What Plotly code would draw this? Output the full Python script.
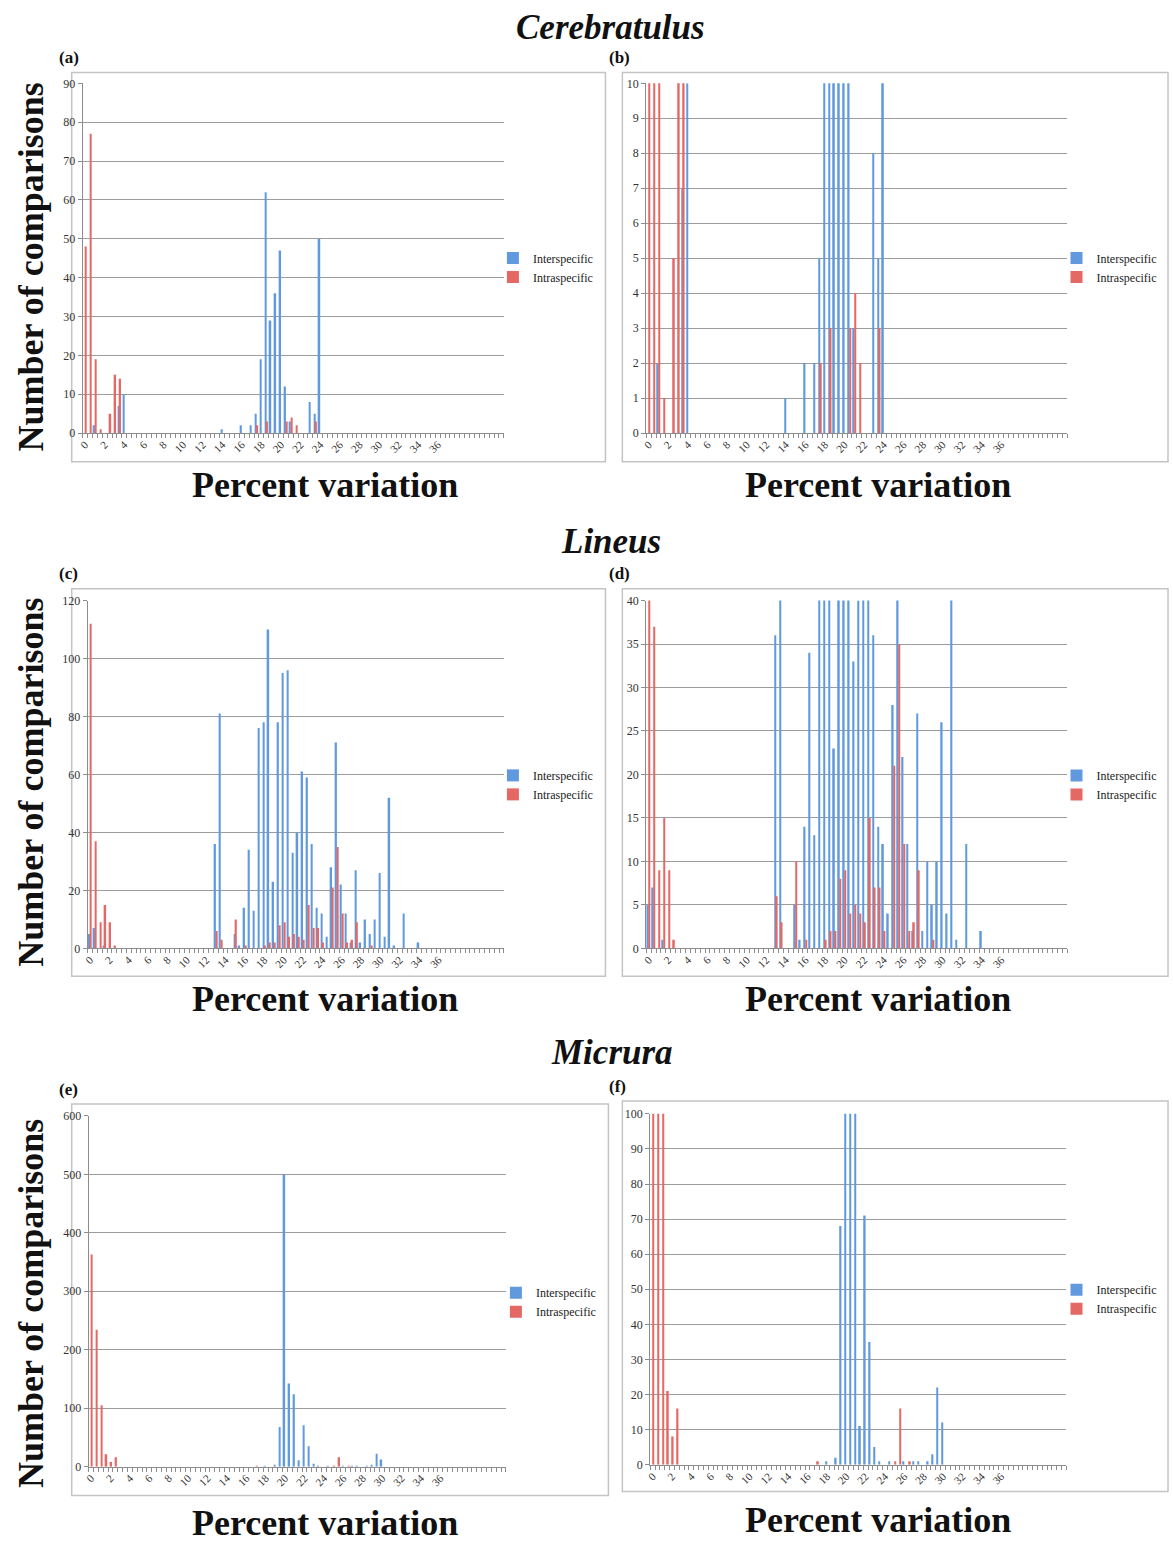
import plotly.graph_objects as go

# ---------------- data (percent variation bins of 0.5 %) ----------------
cereb_inter_pct = [1, 3.5, 4, 14, 16, 17, 17.5, 18, 18.5, 19, 19.5, 20, 20.5, 21, 23, 23.5, 24]
cereb_inter_n   = [2, 7, 10, 1, 2, 2, 5, 19, 62, 29, 36, 47, 12, 3, 8, 5, 50]
cereb_intra_pct = [0, 0.5, 1, 1.5, 2.5, 3, 3.5, 17.5, 18.5, 20.5, 21, 21.5, 23.5]
cereb_intra_n   = [48, 77, 19, 1, 5, 15, 14, 2, 3, 3, 4, 2, 3]

lineus_inter_pct = [0, 0.5, 1.5, 13, 13.5, 15, 15.5, 16, 16.5, 17, 17.5, 18, 18.5, 19, 19.5, 20,
                    20.5, 21, 21.5, 22, 22.5, 23, 23.5, 24, 24.5, 25, 25.5, 26, 26.5, 27, 27.5,
                    28, 28.5, 29, 29.5, 30, 30.5, 31, 31.5, 32.5, 34]
lineus_inter_n   = [5, 7, 1, 36, 81, 5, 1, 14, 34, 13, 76, 78, 110, 23, 78, 95,
                    96, 33, 40, 61, 59, 36, 14, 12, 4, 28, 71, 22, 12, 2, 27,
                    2, 10, 5, 10, 26, 4, 52, 1, 12, 2]
lineus_intra_pct = [0, 0.5, 1, 1.5, 2, 2.5, 13, 13.5, 15, 16, 18, 18.5, 19, 19.5, 20, 20.5, 21,
                    21.5, 22, 22.5, 23, 23.5, 24, 25, 25.5, 26, 26.5, 27, 27.5, 29]
lineus_intra_n   = [112, 37, 9, 15, 9, 1, 6, 3, 10, 1, 1, 2, 2, 8, 9, 4, 5,
                    4, 3, 15, 7, 7, 2, 21, 35, 12, 2, 3, 9, 1]

micrura_inter_pct = [18, 19, 19.5, 20, 20.5, 21, 21.5, 22, 22.5, 23, 23.5, 24.5, 26, 27, 27.5,
                     28.5, 29, 29.5, 30]
micrura_inter_n   = [1, 2, 68, 500, 142, 124, 11, 71, 35, 5, 1, 1, 1, 1, 1,
                     1, 3, 22, 12]
micrura_intra_pct = [0, 0.5, 1, 1.5, 2, 2.5, 17, 25, 25.5, 26.5]
micrura_intra_n   = [363, 234, 105, 21, 8, 16, 1, 1, 16, 1]

x_tick_vals = list(range(0, 37, 2))
x_tick_text = [str(v) for v in x_tick_vals]
series_names = ["Interspecific", "Intraspecific"]

# ---------------- layout geometry (pixels) ----------------
W, H = 1173, 1544
FONT = "Liberation Serif"
BLUE = "#6099de"
RED = "#e4686454"[:7]


def fx(px):
    return px / W


def fy(py):
    return 1 - py / H


panels = [
    # key, data, plot box (x0, x1, ytop, ybot), y max, dtick, legend text x, legend centre y, frame box
    ("a", (cereb_inter_pct, cereb_inter_n, cereb_intra_pct, cereb_intra_n), (78, 501, 77, 430), 90, 10, 532, 263, (67, 66, 603, 459)),
    ("b", (cereb_inter_pct, cereb_inter_n, cereb_intra_pct, cereb_intra_n), (644, 1067, 77, 430), 10, 1, 1098, 263, (620, 66, 1168, 459)),
    ("c", (lineus_inter_pct, lineus_inter_n, lineus_intra_pct, lineus_intra_n), (83, 501, 599, 950), 120, 20, 532, 785, (67, 587, 603, 978)),
    ("d", (lineus_inter_pct, lineus_inter_n, lineus_intra_pct, lineus_intra_n), (644, 1067, 599, 950), 40, 5, 1098, 785, (620, 587, 1168, 978)),
    ("e", (micrura_inter_pct, micrura_inter_n, micrura_intra_pct, micrura_intra_n), (84, 503, 1119, 1473), 600, 100, 535, 1307, (67, 1107, 606, 1502)),
    ("f", (micrura_inter_pct, micrura_inter_n, micrura_intra_pct, micrura_intra_n), (648, 1066, 1117, 1471), 100, 10, 1098, 1304, (620, 1104, 1168, 1498)),
]

fig = go.Figure()
layout = dict(
    width=W, height=H,
    margin=dict(l=0, r=0, t=0, b=0),
    paper_bgcolor="white", plot_bgcolor="white",
    barmode="overlay",
    font=dict(family=FONT, color="#222"),
    showlegend=True,
)
shapes = []
annotations = []

for i, (key, data, box, ymax, dtick, lgx, lgy, frame) in enumerate(panels):
    n = i + 1
    sfx = "" if n == 1 else str(n)
    xa, ya = "x" + sfx, "y" + sfx
    leg = "legend" + sfx
    ipct, ival, rpct, rval = data
    fig.add_trace(go.Bar(x=ipct, y=ival, name=series_names[0], marker=dict(color=BLUE, line=dict(width=0)),
                         width=0.16, offset=-0.16, xaxis=xa, yaxis=ya, legend=leg))
    fig.add_trace(go.Bar(x=rpct, y=rval, name=series_names[1], marker=dict(color=RED, line=dict(width=0)),
                         width=0.16, offset=0.0, xaxis=xa, yaxis=ya, legend=leg))
    x0, x1, yt, yb = box
    layout["xaxis" + sfx] = dict(
        domain=[fx(x0), fx(x1)], anchor=ya, range=[-0.25, 42.75],
        tickmode="array", tickvals=x_tick_vals, ticktext=x_tick_text, tickangle=-45,
        ticks="", showgrid=False, zeroline=False, showline=True, linecolor="#8c8c8c", linewidth=1,
        tickfont=dict(family=FONT, size=11, color="#333"),
        minor=dict(ticks="outside", ticklen=4, tick0=-0.25, dtick=0.5, tickcolor="#8c8c8c", showgrid=False),
        fixedrange=True,
    )
    layout["yaxis" + sfx] = dict(
        domain=[fy(yb), fy(yt)], anchor=xa, range=[0, ymax], dtick=dtick,
        showgrid=True, gridcolor="#9c9c9c", gridwidth=1.2, zeroline=False,
        showline=True, linecolor="#8c8c8c", linewidth=1, ticks="outside", ticklen=4, tickcolor="#8c8c8c",
        tickfont=dict(family=FONT, size=12, color="#333"), fixedrange=True,
    )
    layout[leg] = dict(
        x=fx(lgx - 42), y=fy(lgy), xanchor="left", yanchor="middle",
        font=dict(family=FONT, size=12, color="#222"), bgcolor="rgba(0,0,0,0)",
        itemwidth=30, tracegroupgap=0,
    )
    fx0, fy0, fx1, fy1 = frame
    shapes.append(dict(type="rect", xref="paper", yref="paper", x0=fx(fx0), x1=fx(fx1), y0=fy(fy1), y1=fy(fy0),
                       line=dict(color="#c4c4c4", width=1.5), layer="below"))
    # panel letter
    annotations.append(dict(text="<b>(%s)</b>" % key, xref="paper", yref="paper", x=fx(fx0 - 15), y=fy(fy0 - 15),
                            xanchor="left", yanchor="middle", showarrow=False,
                            font=dict(family=FONT, size=17, color="#111")))
    # x title
    xt_y = {0: 482, 1: 482, 2: 1001, 3: 1001, 4: 1530, 5: 1527}[i]
    xt_x = 321 if i % 2 == 0 else 877
    annotations.append(dict(text="<b>Percent variation</b>", xref="paper", yref="paper", x=fx(xt_x), y=fy(xt_y),
                            xanchor="center", yanchor="middle", showarrow=False,
                            font=dict(family=FONT, size=36, color="#111")))

# y titles (left column)
for yc in (262, 782, 1308):
    annotations.append(dict(text="<b>Number of comparisons</b>", xref="paper", yref="paper", x=fx(26), y=fy(yc),
                            xanchor="center", yanchor="middle", textangle=-90, showarrow=False,
                            font=dict(family=FONT, size=36, color="#111")))

# group titles
for txt, xc, yc in (("Cerebratulus", 608, 21), ("Lineus", 609, 539), ("Micrura", 610, 1055)):
    annotations.append(dict(text="<b><i>%s</i></b>" % txt, xref="paper", yref="paper", x=fx(xc), y=fy(yc),
                            xanchor="center", yanchor="middle", showarrow=False,
                            font=dict(family=FONT, size=35, color="#111")))

layout["shapes"] = shapes
layout["annotations"] = annotations
fig.update_layout(**layout)
fig.write_html("out.html")
